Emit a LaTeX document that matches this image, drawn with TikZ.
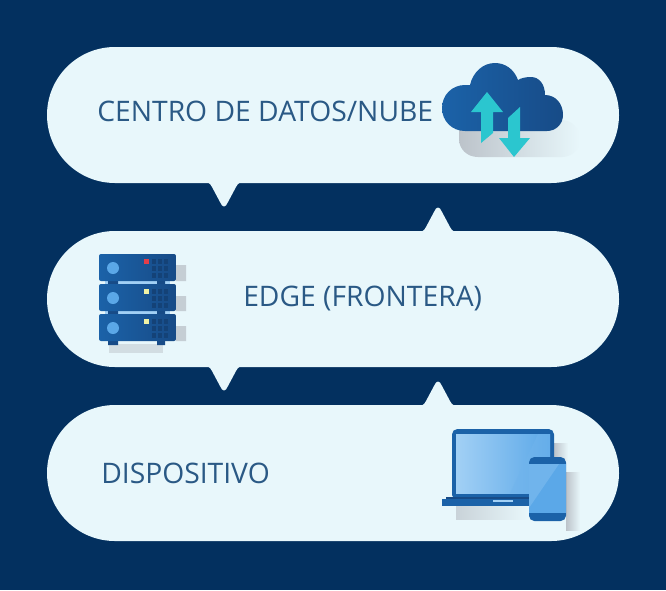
\documentclass[tikz,border=0pt]{standalone}
\usepackage{fontspec}
\setmainfont{Open Sans}
\definecolor{navy}{HTML}{03305F}
\definecolor{bubble}{HTML}{E8F7FB}
\definecolor{label}{HTML}{2A5985}
\definecolor{darkblue}{HTML}{174B87}
\definecolor{midblue}{HTML}{1B62A8}
\definecolor{skyblue}{HTML}{5BA8E8}
\definecolor{paleblue}{HTML}{A2D0F5}
\definecolor{teal}{HTML}{2BC6CF}
\definecolor{softgray}{HTML}{BCC3CA}
\begin{document}
\begin{tikzpicture}
	  [
	    x                = 0.75pt,
	    y                = -0.75pt,
	    pill/.style      = {
			fill=bubble, rectangle, rounded corners=51pt,
			minimum width=429pt, minimum height=102pt, inner sep=0pt
		},
	    caption/.style   = {
			anchor=west, inner sep=0pt, text=label, font=\fontsize{21.2}{25}\selectfont
		},
	    shadow/.style    = {left color=softgray, right color=bubble},
	    vent/.style      = {fill=darkblue!88!black},
	    rack/.style      = {left color=midblue, right color=darkblue, rounded corners=1.5pt},
	    pointer/.pic     = {
			\fill[bubble] (-21,-1) .. controls (-16,-1) and (-14,0) .. (-12,4)
				-- (-4,19) .. controls (-1.5,25) and (1.5,25) .. (4,19)
				-- (12,4) .. controls (14,0) and (16,-1) .. (21,-1) -- cycle;
		}
		]
		\fill[navy] (0,0) rectangle (666,590);

		% bubbles
		\node[pill] (cloudpill) at (333,115) {};
		\node[pill] (edgepill) at (333,299) {};
		\node[pill] (devicepill) at (333,473) {};
		\pic at (224,183) {pointer};
		\pic[yscale=-1] at (438,231) {pointer};
		\pic at (224,367) {pointer};
		\pic[yscale=-1] at (438,405) {pointer};

		\node[caption] (cloudtext) at (97,111) {CENTRO DE DATOS/NUBE};
		\node[caption] (edgetext) at (243,298) {EDGE (FRONTERA)};
		\node[caption] (devicetext) at (101,473) {DISPOSITIVO};

		% cloud
		\shade[shadow] (459,125) -- (459,139) .. controls (459,149) and (467,157) .. (478,157)
			-- (562,157) .. controls (572,157) and (580,149) .. (580,139)
			.. controls (580,129) and (572,120) .. (562,120) -- cycle;
		\shade[left color=midblue, right color=darkblue]
			(465,131) .. controls (452,131) and (442,121) .. (442,108)
			.. controls (442,95) and (452,85) .. (465,85)
			.. controls (467,85) and (468,85) .. (470,85)
			.. controls (473,72) and (483,63) .. (495,63)
			.. controls (505,63) and (514,69) .. (518,80)
			.. controls (521,78) and (526,77) .. (531,77)
			.. controls (539,77) and (545,84) .. (545,95)
			.. controls (556,95) and (563,104) .. (563,115)
			.. controls (563,124) and (556,131) .. (547,131) -- cycle;
		\fill[teal] (487,92) -- (503,112) -- (493,112) -- (493,133) -- (481,143) -- (481,112) -- (471,112) -- cycle;
		\fill[teal] (514,157) -- (530,138) -- (520,138) -- (520,107) -- (508,118) -- (508,138) -- (499,138) -- cycle;

		% server
		\fill[softgray!80!bubble] (176,265) rectangle (186,281) (176,296) rectangle (186,311) (176,326) rectangle (186,341);
		\fill[softgray!50!bubble] (109,344) rectangle (163,353);
		\fill[paleblue] (105,281) rectangle (170,314);
		\fill[darkblue] (108,281) rectangle (118,284) (108,311) rectangle (118,314)
			(157,281) rectangle (165,284) (157,311) rectangle (165,314)
			(108,341) rectangle (118,345) (157,341) rectangle (165,345);
		\foreach \y/\lamp in {254/red!70!paleblue, 284/yellow!35!bubble, 314/yellow!35!bubble} {
			\shade[rack] (99,\y) rectangle (176,\y+27);
			\fill[skyblue] (113,\y+14) circle (6);
			\fill[\lamp] (143.5,\y+5) rectangle (148.5,\y+10);
			\foreach \c in {152,158,164} {
				\foreach \r in {5,12,19} {
					\fill[vent] (\c,\y+\r) rectangle (\c+4,\y+\r+5);
				}
			}
		}

		% laptop and phone
		\shade[shadow] (554,443) rectangle (568,460);
		\shade[shadow] (566,472) rectangle (580,530);
		\shade[shadow, left color=softgray!70!bubble] (456,506) rectangle (529,519);
		\fill[midblue, rounded corners=4pt] (452,429) rectangle (554,500);
		\shade[left color=paleblue, right color=skyblue] (456,434) rectangle (550,493);
		\fill[skyblue!70!paleblue, opacity=0.5] (510,493) -- (538,434) -- (550,434) -- (550,493) -- cycle;
		\fill[darkblue] (446,497) rectangle (530,499);
		\fill[midblue] (442,499) rectangle (530,506);
		\fill[paleblue] (493,499.5) rectangle (513,501.5);
		\fill[midblue, rounded corners=4pt] (529,457) rectangle (566,521);
		\fill[skyblue] (529,464) rectangle (566,513);
		\fill[paleblue!30!skyblue] (529,464) -- (559,464) -- (529,508) -- cycle;
	\end{tikzpicture}
\end{document}
